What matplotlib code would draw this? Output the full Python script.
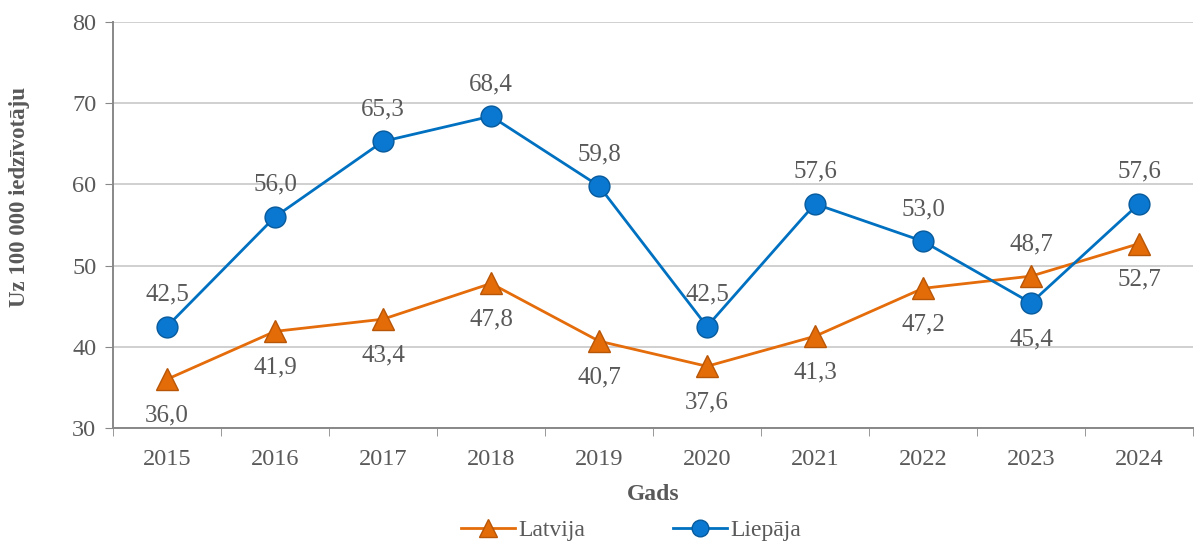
import matplotlib
matplotlib.use("Agg")
import matplotlib.pyplot as plt
import numpy as np

years = ["2015", "2016", "2017", "2018", "2019", "2020", "2021", "2022", "2023", "2024"]
latvija = [36.0, 41.9, 43.4, 47.8, 40.7, 37.6, 41.3, 47.2, 48.7, 52.7]
liepaja = [42.5, 56.0, 65.3, 68.4, 59.8, 42.5, 57.6, 53.0, 45.4, 57.6]
latvija_pos = ["below"] * 8 + ["above", "below"]
liepaja_pos = ["above"] * 8 + ["below", "above"]

plt.rcParams['font.family'] = ['Liberation Serif', 'DejaVu Serif']

W, H = 1194, 545
fig = plt.figure(figsize=(W / 100, H / 100), dpi=100)
ax = fig.add_axes([113 / W, 1 - 428 / H, 1080 / W, 406 / H])

x = np.arange(len(years))
orange = "#E46C0A"
blue = "#0070C0"
txt = "#595959"

ax.plot(x, latvija, color=orange, lw=2, marker="^", ms=16, mfc="#E36C09",
        mec="#B85608", mew=1, label="Latvija", zorder=3)
ax.plot(x, liepaja, color=blue, lw=2, marker="o", ms=15, mfc="#0A78D0",
        mec="#075A9C", mew=1, label="Liepāja", zorder=3)

def fmt(v):
    return f"{v:.1f}".replace(".", ",")

for series, pos in ((latvija, latvija_pos), (liepaja, liepaja_pos)):
    for xi, v, p in zip(x, series, pos):
        off = 23 if p == "above" else -26
        ax.annotate(fmt(v), (xi, v), xytext=(0, off), textcoords="offset points",
                    ha="center", va="center", fontsize=18, color=txt)

ax.set_xlim(-0.5, 9.5)
ax.set_ylim(30, 80)
ax.set_yticks(range(30, 81, 10))
ax.set_xticks(x)
ax.set_xticklabels(years)
ax.set_xticks(np.arange(-0.5, 10, 1), minor=True)
ax.tick_params(axis="x", which="major", length=0, labelsize=17.5, labelcolor=txt, pad=15)
ax.tick_params(axis="x", which="minor", length=6, color="#888888")
ax.tick_params(axis="y", length=6, color="#888888", labelsize=17.5, labelcolor=txt, pad=6)

ax.grid(axis="y", color="#D0D0D0", lw=1.4)
ax.set_axisbelow(True)
for s in ["top", "right"]:
    ax.spines[s].set_visible(False)
for s in ["left", "bottom"]:
    ax.spines[s].set_color("#888888")
    ax.spines[s].set_linewidth(1.4)

fig.text(0.5 * (113 + 1193) / W, 1 - 494 / H, "Gads", fontsize=17, fontweight="bold",
         color=txt, ha="center", va="center")
fig.text(20 / W, 1 - 197 / H, "Uz 100 000 iedzīvotāju", fontsize=16.5, fontweight="bold",
         color=txt, ha="center", va="center", rotation=90)

leg = fig.legend(loc="center", bbox_to_anchor=(631 / W, 1 - 530 / H), ncol=2,
                 frameon=False, fontsize=17, handlelength=2.3, handletextpad=0.15,
                 columnspacing=3.7, markerscale=0.8)
for t in leg.get_texts():
    t.set_color(txt)

fig.savefig("out.png", dpi=100)
